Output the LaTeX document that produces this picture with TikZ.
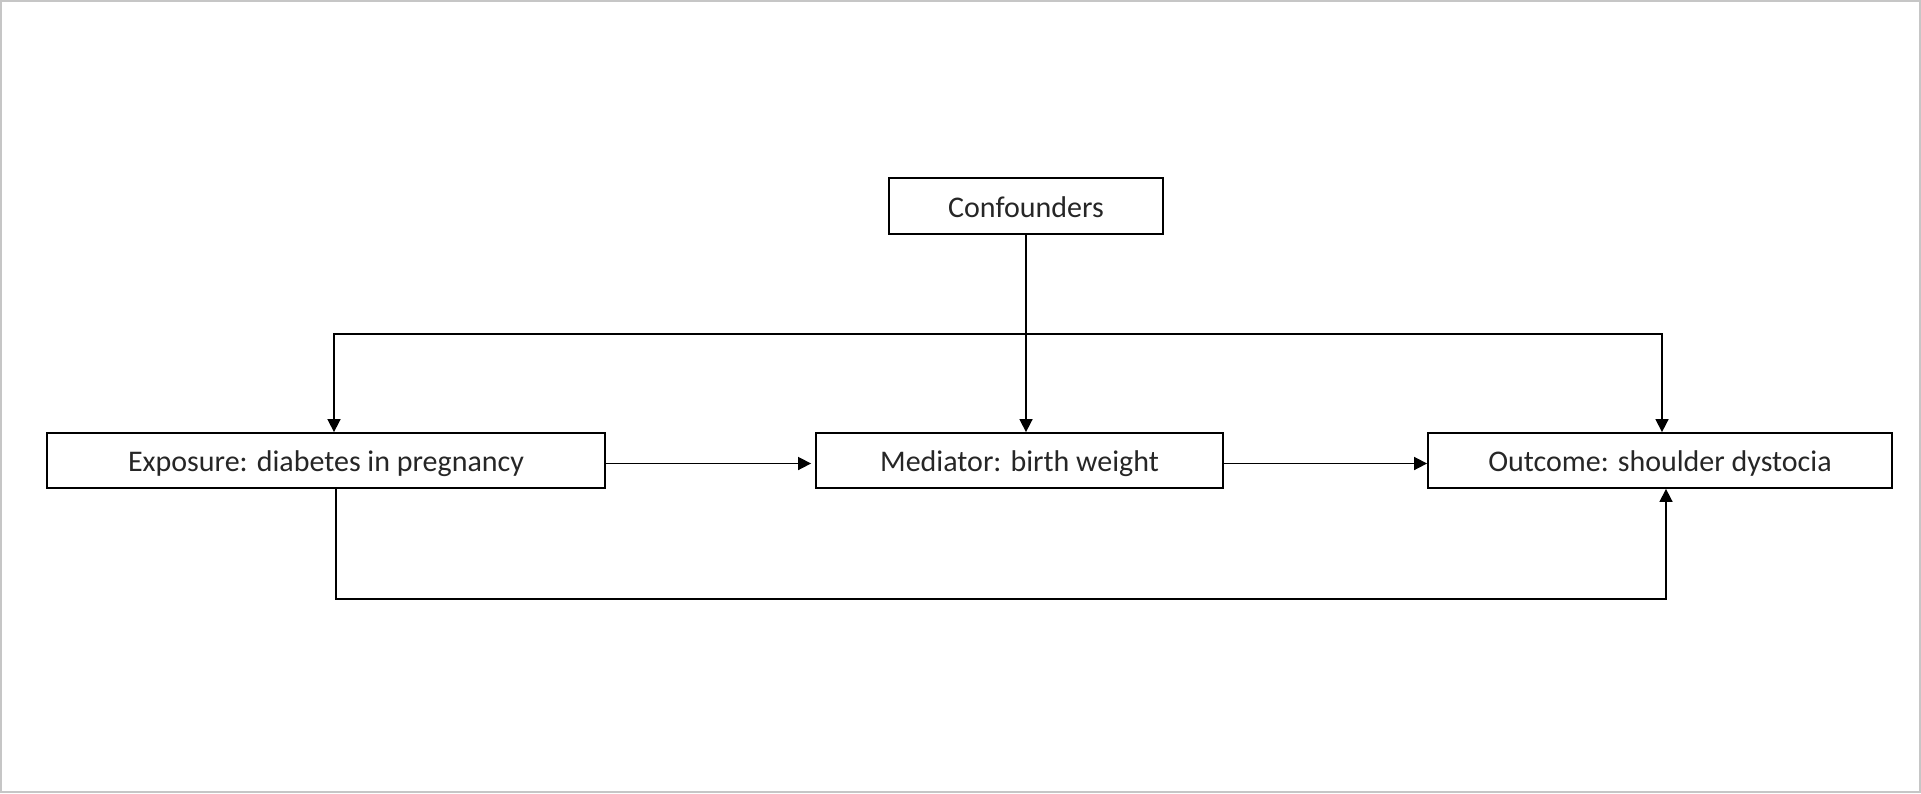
\documentclass[tikz,border=0pt]{standalone}
\usepackage{fontspec}
\setmainfont{Carlito}
\usetikzlibrary{arrows.meta}

\begin{document}
\begin{tikzpicture}[x=0.5pt, y=-0.5pt,
  box/.style={draw, line width=0.9pt, minimum height=27.5pt, inner sep=0pt,
    text height=11.5pt, text depth=0.5pt,
    text=black!85, font=\fontsize{15}{18}\selectfont},
  link/.style={-{Triangle[length=6.5pt,width=6.5pt]}, line width=0.8pt}]
  \useasboundingbox (0,0) rectangle (1921,793);
  \draw[gray!45, line width=1pt] (1,1) rectangle (1920,792);
  % boxes
  \node[box, minimum width=137pt, minimum height=28pt] (conf) at (1026,206) {Confounders};
  \node[box, minimum width=279pt] (expo) at (326,460.5) {Exposure: diabetes in pregnancy};
  \node[box, minimum width=203.5pt] (med) at (1019.5,460.5) {Mediator: birth weight};
  \node[box, minimum width=232pt] (outc) at (1660,460.5) {Outcome: shoulder dystocia};
  \coordinate (split) at (1026,334);
  % arrows
  \draw[link] (conf.south) -- (conf.south |- med.north);
  \draw[link] (split) -| ([xshift=4pt]expo.north);
  \draw[link] (split) -| ([xshift=1pt]outc.north);
  \draw[link] ([yshift=-1.5pt]expo.east) -- ([xshift=-2pt,yshift=-1.5pt]med.west);
  \draw[link] ([yshift=-1.5pt]med.east) -- ([yshift=-1.5pt]outc.west);
  \draw[link] ([xshift=5pt]expo.south) -- ++(0,110) -| ([xshift=3pt]outc.south);
\end{tikzpicture}
\end{document}
